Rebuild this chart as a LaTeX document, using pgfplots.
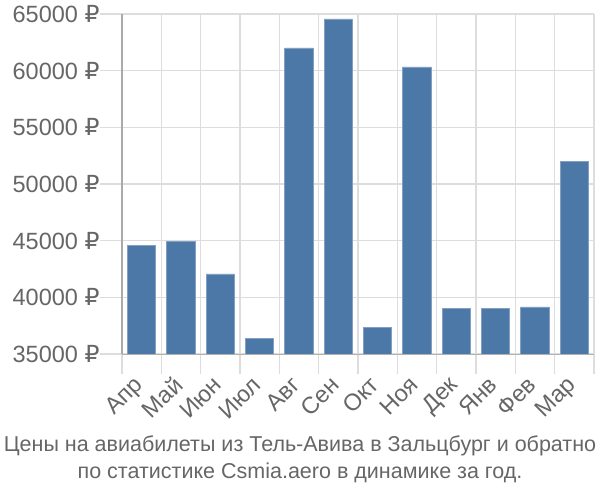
\documentclass[border=0pt]{standalone}
\usepackage{pgfplots}
\pgfplotsset{compat=1.18}
\usepackage{fontspec}
\setmainfont{Liberation Sans}
\newfontfamily\rubfont{DejaVu Sans}
\newcommand{\rub}{{\rubfont ₽}}
\definecolor{barc}{RGB}{76,120,168}
\definecolor{txt}{RGB}{102,102,102}
\definecolor{gridc}{RGB}{221,221,221}
\definecolor{axc}{RGB}{170,170,170}
\begin{document}
\begin{tikzpicture}
\begin{axis}[
  scale only axis, width=472bp, height=340bp,
  xmin=-0.5, xmax=11.5, ymin=35000, ymax=65000,
  ybar, bar width=0.72,
  scaled y ticks=false,
  xtick={0,...,11},
  xticklabels={Апр,Май,Июн,Июл,Авг,Сен,Окт,Ноя,Дек,Янв,Фев,Мар},
  minor xtick={-0.5,0.5,...,11.5},
  xminorgrids, ymajorgrids,
  major x tick style={draw=none},
  minor x tick style={draw=gridc, line width=1.2pt},
  minor tick length=20bp,
  ytick={35000,40000,...,65000},
  yticklabels={35000 \rub,40000 \rub,45000 \rub,50000 \rub,55000 \rub,60000 \rub,65000 \rub},
  major tick length=22bp,
  y tick style={draw=gridc, line width=1.2pt},
  tick align=outside, xtick pos=bottom, ytick pos=left,
  grid style={draw=gridc, line width=1.2pt},
  axis line style={draw=none},
  axis x line*=bottom, axis y line*=left,
  ticklabel style={font=\fontsize{23.5bp}{26bp}\selectfont, text=txt},
  xticklabel style={xshift=-9bp, yshift=6bp, rotate=45, anchor=north east},
  yticklabel style={xshift=3bp},
  clip=false,
]
\addplot[fill=barc, draw=barc!70!white, line width=0.8pt] coordinates {
(0,44600) (1,44900) (2,42060) (3,36350) (4,62000) (5,64560)
(6,37360) (7,60330) (8,39050) (9,39050) (10,39150) (11,51990)};
\draw[axc, line width=1.2pt] (axis cs:-0.5,35000) -- (axis cs:-0.5,65000);
\draw[gridc!80!black, line width=1pt] (axis cs:-0.5,35000) -- (axis cs:11.5,35000);
\end{axis}
\node[text=txt, align=center, font=\fontsize{21.5bp}{27bp}\selectfont] at ([xshift=-58bp,yshift=-105bp]current axis.south) {Цены на авиабилеты из Тель-Авива в Зальцбург и обратно\\по статистике Csmia.aero в динамике за год.};
\pgfresetboundingbox
\path (current axis.south west) ++(-122bp,-146bp) rectangle ++(600bp,500bp);
\end{tikzpicture}
\end{document}
